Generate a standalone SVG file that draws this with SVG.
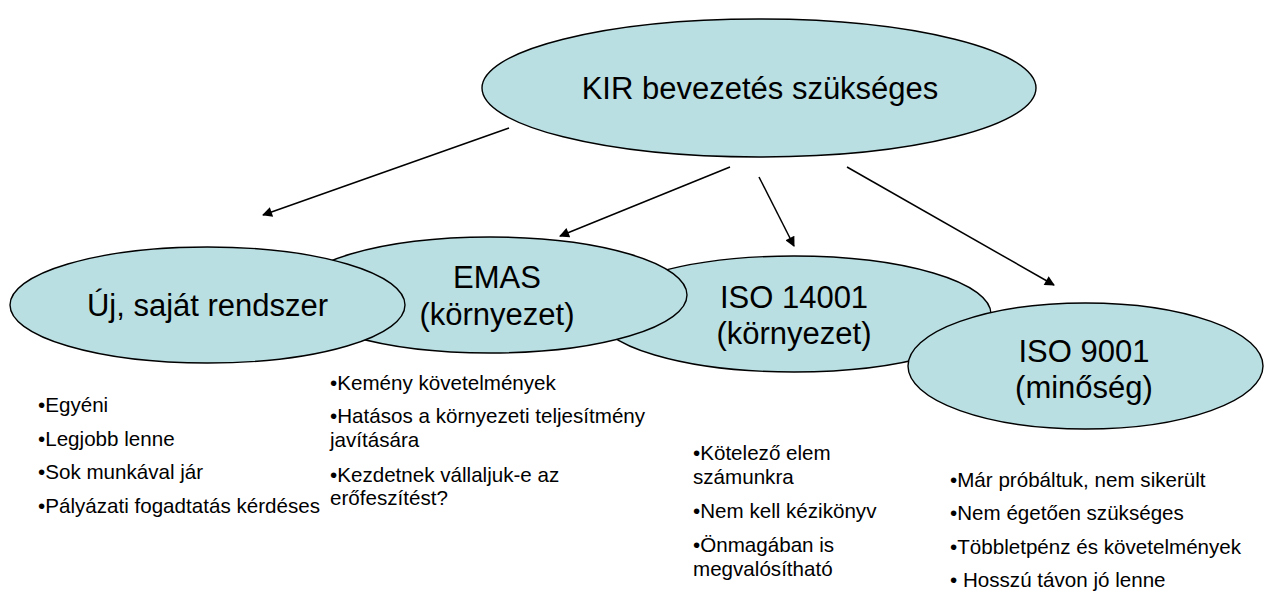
<svg xmlns="http://www.w3.org/2000/svg" width="1264" height="603" viewBox="0 0 1264 603">
<style>
.node ellipse{fill:#B9DFE3;stroke:#000;stroke-width:1.4}
.lbl{font-family:"Liberation Sans",Arial,sans-serif;font-size:31px;fill:#000;text-anchor:middle}
.bul{font-family:"Liberation Sans",Arial,sans-serif;font-size:20.6px;fill:#000}
.conn line{stroke:#000;stroke-width:1.5;marker-end:url(#ah)}
</style>
<defs>
<marker id="ah" viewBox="0 0 10 10" refX="9" refY="5" markerWidth="11" markerHeight="10" markerUnits="userSpaceOnUse" orient="auto">
<path d="M0,0 L10,5 L0,10 z" fill="#000"/>
</marker>
</defs>
<g id="n-kir" class="node">
<ellipse cx="759" cy="88" rx="277" ry="69"/>
<text class="lbl" x="760" y="99">KIR bevezetés szükséges</text>
</g>
<g id="n-iso14001" class="node">
<ellipse cx="794" cy="314" rx="197" ry="58"/>
<text class="lbl" x="794" y="308">ISO 14001</text>
<text class="lbl" x="794" y="344">(környezet)</text>
</g>
<g id="n-emas" class="node">
<ellipse cx="490" cy="295" rx="197" ry="58"/>
<text class="lbl" x="497" y="288">EMAS</text>
<text class="lbl" x="497" y="325">(környezet)</text>
</g>
<g id="n-uj" class="node">
<ellipse cx="207.5" cy="305" rx="197.5" ry="58"/>
<text class="lbl" x="207.5" y="316">Új, saját rendszer</text>
</g>
<g id="n-iso9001" class="node">
<ellipse cx="1085.5" cy="366" rx="177.5" ry="63"/>
<text class="lbl" x="1084" y="362">ISO 9001</text>
<text class="lbl" x="1084" y="398">(minőség)</text>
</g>
<g id="connectors" class="conn">
<line x1="509" y1="128" x2="263" y2="215"/>
<line x1="730" y1="167" x2="560" y2="236"/>
<line x1="759" y1="177" x2="794" y2="246"/>
<line x1="847" y1="167" x2="1054" y2="285"/>
</g>
<g id="t-uj" class="bul">
<text x="38" y="412">•Egyéni</text>
<text x="38" y="446">•Legjobb lenne</text>
<text x="38" y="479">•Sok munkával jár</text>
<text x="38" y="513">•Pályázati fogadtatás kérdéses</text>
</g>
<g id="t-emas" class="bul">
<text x="330" y="390">•Kemény követelmények</text>
<text x="330" y="423">•Hatásos a környezeti teljesítmény</text>
<text x="330" y="447">javítására</text>
<text x="330" y="482">•Kezdetnek vállaljuk-e az</text>
<text x="330" y="505">erőfeszítést?</text>
</g>
<g id="t-iso14001" class="bul">
<text x="693" y="460">•Kötelező elem</text>
<text x="693" y="484">számunkra</text>
<text x="693" y="518">•Nem kell kézikönyv</text>
<text x="693" y="552">•Önmagában is</text>
<text x="693" y="576">megvalósítható</text>
</g>
<g id="t-iso9001" class="bul">
<text x="950" y="487">•Már próbáltuk, nem sikerült</text>
<text x="950" y="520">•Nem égetően szükséges</text>
<text x="950" y="554">•Többletpénz és követelmények</text>
<text x="950" y="587">• Hosszú távon jó lenne</text>
</g>
</svg>
